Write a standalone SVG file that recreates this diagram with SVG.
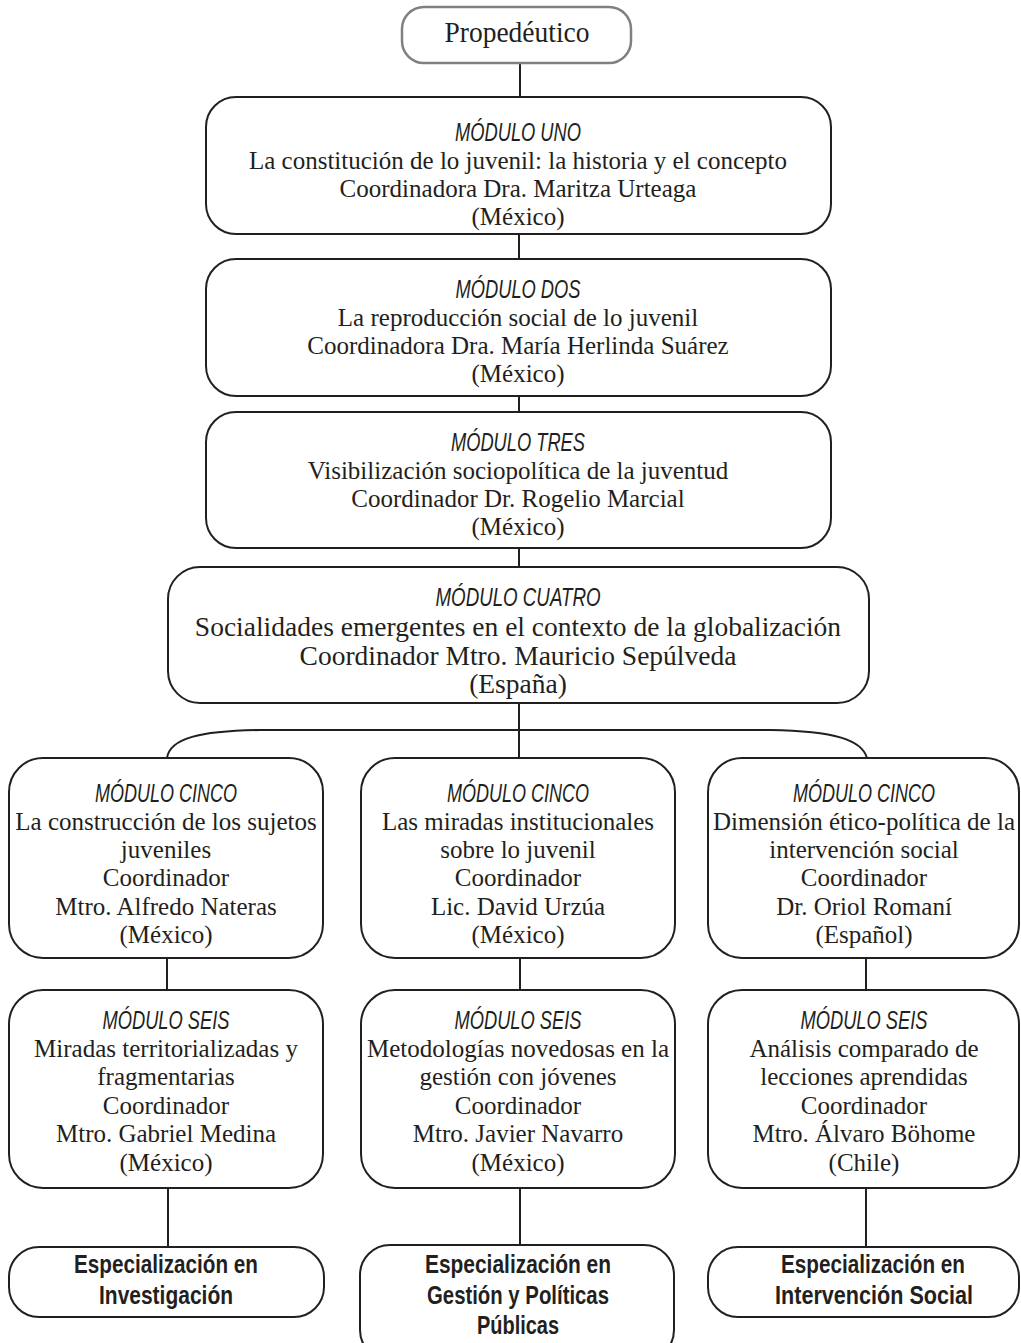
<svg xmlns="http://www.w3.org/2000/svg" width="1021" height="1343" viewBox="0 0 1021 1343">
<style>
.box{fill:#fff;stroke:#231f20;stroke-width:2}
.gbox{fill:#fff;stroke:#808080;stroke-width:2.5}
.ln{fill:none;stroke:#231f20;stroke-width:2}
.h{font-family:"Liberation Sans Narrow","Liberation Sans",sans-serif;font-style:italic;font-size:25px;fill:#231f20;text-anchor:middle}
.t{font-family:"Liberation Serif","Times New Roman",serif;font-size:25px;fill:#231f20;text-anchor:middle}
.t4{font-family:"Liberation Serif","Times New Roman",serif;font-size:27.5px;fill:#231f20;text-anchor:middle}
.b{font-family:"Liberation Sans Narrow","Liberation Sans",sans-serif;font-weight:bold;font-size:25px;fill:#231f20;text-anchor:middle}
.p{font-family:"Liberation Serif","Times New Roman",serif;font-size:29px;fill:#231f20;text-anchor:middle}
</style>
<rect width="1021" height="1343" fill="#fff"/>
<g id="connectors">
<line class="ln" x1="520" y1="63" x2="520" y2="97"/>
<line class="ln" x1="519" y1="234" x2="519" y2="259"/>
<line class="ln" x1="519" y1="396" x2="519" y2="412"/>
<line class="ln" x1="519" y1="548" x2="519" y2="567"/>
<line class="ln" x1="519" y1="703" x2="519" y2="758"/>
<path class="ln" d="M167,758 C170,738 200,731 260,730 L770,730 C835,731 862,740 867,758"/>
<line class="ln" x1="167" y1="958" x2="167" y2="990"/>
<line class="ln" x1="520" y1="958" x2="520" y2="990"/>
<line class="ln" x1="866" y1="958" x2="866" y2="990"/>
<line class="ln" x1="168" y1="1188" x2="168" y2="1247"/>
<line class="ln" x1="520" y1="1188" x2="520" y2="1245"/>
<line class="ln" x1="866" y1="1188" x2="866" y2="1247"/>
</g>
<g id="propedeutico">
<rect class="gbox" x="402" y="7" width="229" height="56" rx="22"/>
<text class="p" x="517" y="42" textLength="145" lengthAdjust="spacingAndGlyphs">Propedéutico</text>
</g>
<g id="modulo-uno">
<rect class="box" x="206" y="97" width="625" height="137" rx="30"/>
<text class="h" x="518" y="141" textLength="126" lengthAdjust="spacingAndGlyphs">MÓDULO UNO</text>
<text class="t" x="518" y="169">La constitución de lo juvenil: la historia y el concepto</text>
<text class="t" x="518" y="197">Coordinadora Dra. Maritza Urteaga</text>
<text class="t" x="518" y="225">(México)</text>
</g>
<g id="modulo-dos">
<rect class="box" x="206" y="259" width="625" height="137" rx="30"/>
<text class="h" x="518" y="298" textLength="125" lengthAdjust="spacingAndGlyphs">MÓDULO DOS</text>
<text class="t" x="518" y="326">La reproducción social de lo juvenil</text>
<text class="t" x="518" y="354">Coordinadora Dra. María Herlinda Suárez</text>
<text class="t" x="518" y="382">(México)</text>
</g>
<g id="modulo-tres">
<rect class="box" x="206" y="412" width="625" height="136" rx="30"/>
<text class="h" x="518" y="451" textLength="134" lengthAdjust="spacingAndGlyphs">MÓDULO TRES</text>
<text class="t" x="518" y="479">Visibilización sociopolítica de la juventud</text>
<text class="t" x="518" y="507">Coordinador Dr. Rogelio Marcial</text>
<text class="t" x="518" y="535">(México)</text>
</g>
<g id="modulo-cuatro">
<rect class="box" x="168" y="567" width="701" height="136" rx="32"/>
<text class="h" x="518" y="606" textLength="165" lengthAdjust="spacingAndGlyphs">MÓDULO CUATRO</text>
<text class="t4" x="518" y="636">Socialidades emergentes en el contexto de la globalización</text>
<text class="t4" x="518" y="665">Coordinador Mtro. Mauricio Sepúlveda</text>
<text class="t4" x="518" y="693">(España)</text>
</g>
<g id="cinco-a">
<rect class="box" x="9" y="758" width="314" height="200" rx="34"/>
<text class="h" x="166" y="802" textLength="142" lengthAdjust="spacingAndGlyphs">MÓDULO CINCO</text>
<text class="t" x="166" y="830">La construcción de los sujetos</text>
<text class="t" x="166" y="858">juveniles</text>
<text class="t" x="166" y="886">Coordinador</text>
<text class="t" x="166" y="915">Mtro. Alfredo Nateras</text>
<text class="t" x="166" y="943">(México)</text>
</g>
<g id="cinco-b">
<rect class="box" x="361" y="758" width="314" height="200" rx="34"/>
<text class="h" x="518" y="802" textLength="142" lengthAdjust="spacingAndGlyphs">MÓDULO CINCO</text>
<text class="t" x="518" y="830">Las miradas institucionales</text>
<text class="t" x="518" y="858">sobre lo juvenil</text>
<text class="t" x="518" y="886">Coordinador</text>
<text class="t" x="518" y="915">Lic. David Urzúa</text>
<text class="t" x="518" y="943">(México)</text>
</g>
<g id="cinco-c">
<rect class="box" x="708" y="758" width="311" height="200" rx="34"/>
<text class="h" x="864" y="802" textLength="142" lengthAdjust="spacingAndGlyphs">MÓDULO CINCO</text>
<text class="t" x="864" y="830">Dimensión ético-política de la</text>
<text class="t" x="864" y="858">intervención social</text>
<text class="t" x="864" y="886">Coordinador</text>
<text class="t" x="864" y="915">Dr. Oriol Romaní</text>
<text class="t" x="864" y="943">(Español)</text>
</g>
<g id="seis-a">
<rect class="box" x="9" y="990" width="314" height="198" rx="34"/>
<text class="h" x="166" y="1029" textLength="127" lengthAdjust="spacingAndGlyphs">MÓDULO SEIS</text>
<text class="t" x="166" y="1057">Miradas territorializadas y</text>
<text class="t" x="166" y="1085">fragmentarias</text>
<text class="t" x="166" y="1114">Coordinador</text>
<text class="t" x="166" y="1142">Mtro. Gabriel Medina</text>
<text class="t" x="166" y="1171">(México)</text>
</g>
<g id="seis-b">
<rect class="box" x="361" y="990" width="314" height="198" rx="34"/>
<text class="h" x="518" y="1029" textLength="127" lengthAdjust="spacingAndGlyphs">MÓDULO SEIS</text>
<text class="t" x="518" y="1057">Metodologías novedosas en la</text>
<text class="t" x="518" y="1085">gestión con jóvenes</text>
<text class="t" x="518" y="1114">Coordinador</text>
<text class="t" x="518" y="1142">Mtro. Javier Navarro</text>
<text class="t" x="518" y="1171">(México)</text>
</g>
<g id="seis-c">
<rect class="box" x="708" y="990" width="311" height="198" rx="34"/>
<text class="h" x="864" y="1029" textLength="127" lengthAdjust="spacingAndGlyphs">MÓDULO SEIS</text>
<text class="t" x="864" y="1057">Análisis comparado de</text>
<text class="t" x="864" y="1085">lecciones aprendidas</text>
<text class="t" x="864" y="1114">Coordinador</text>
<text class="t" x="864" y="1142">Mtro. Álvaro Böhome</text>
<text class="t" x="864" y="1171">(Chile)</text>
</g>
<g id="esp-investigacion">
<rect class="box" x="9" y="1247" width="315" height="70" rx="30"/>
<text class="b" x="166" y="1273" textLength="184" lengthAdjust="spacingAndGlyphs">Especialización en</text>
<text class="b" x="166" y="1304" textLength="134" lengthAdjust="spacingAndGlyphs">Investigación</text>
</g>
<g id="esp-gestion">
<rect class="box" x="360" y="1245" width="314" height="115" rx="30"/>
<text class="b" x="518" y="1273" textLength="186" lengthAdjust="spacingAndGlyphs">Especialización en</text>
<text class="b" x="518" y="1304" textLength="182" lengthAdjust="spacingAndGlyphs">Gestión y Políticas</text>
<text class="b" x="518" y="1334" textLength="82" lengthAdjust="spacingAndGlyphs">Públicas</text>
</g>
<g id="esp-intervencion">
<rect class="box" x="708" y="1247" width="311" height="70" rx="30"/>
<text class="b" x="873" y="1273" textLength="184" lengthAdjust="spacingAndGlyphs">Especialización en</text>
<text class="b" x="874" y="1304" textLength="198" lengthAdjust="spacingAndGlyphs">Intervención Social</text>
</g>
</svg>
